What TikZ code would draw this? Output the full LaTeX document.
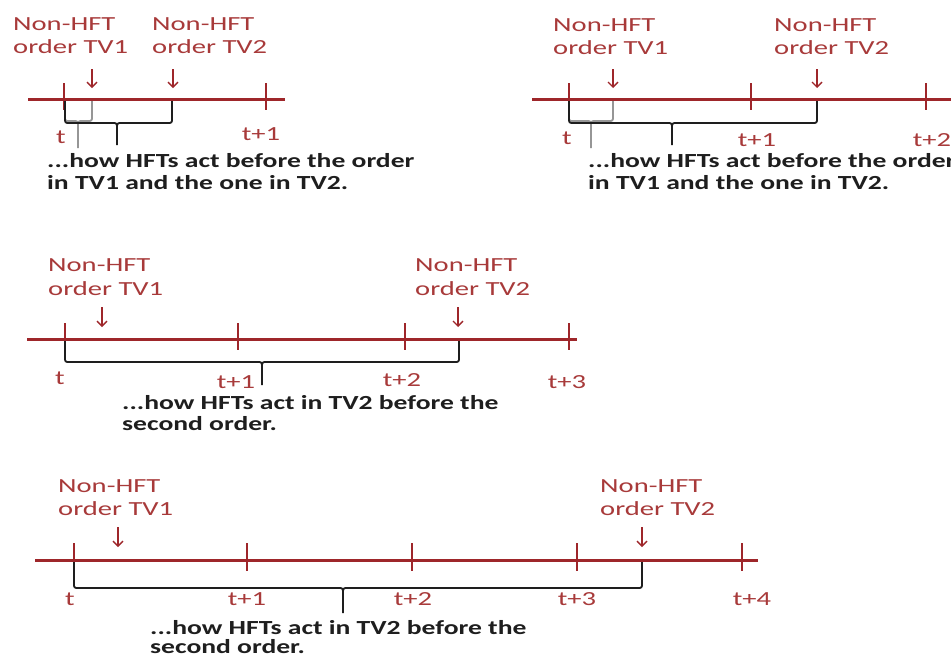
\documentclass[tikz,border=0pt]{standalone}
\usepackage{fontspec}
\usetikzlibrary{arrows.meta}
\newfontfamily\labfont[FakeStretch=1.43]{Carlito}
\newfontfamily\explfont[FakeStretch=1.38]{Carlito}
\definecolor{axisred}{RGB}{158,38,42}
\definecolor{labred}{RGB}{168,58,58}
\definecolor{bracegray}{RGB}{150,150,150}
\definecolor{braceblack}{RGB}{30,30,30}
\newcommand{\mybrace}[7]{%
  \draw[#1] (#2,#5) -- (#2,#6-5) .. controls (#2,#6) .. (#2+5,#6) -- (#4-5,#6) .. controls (#4,#6) .. (#4,#6+6) -- (#4,#7);
  \draw[#1] (#3,#5) -- (#3,#6-5) .. controls (#3,#6) .. (#3-5,#6) -- (#4+5,#6) .. controls (#4,#6) .. (#4,#6+6);
}
\tikzset{
  axisline/.style={draw=axisred, line width=3pt},
  tickmark/.style={draw=axisred, line width=1.8pt},
  ordarrow/.style={draw=axisred, line width=1.4pt, -{Straight Barb[length=5pt,width=10pt,line width=1.4pt]}},
  lab/.style={anchor=base west, inner sep=0pt, text=labred, font=\labfont\fontsize{20}{23}\selectfont},
  tlab/.style={anchor=base, inner sep=0pt, text=labred, font=\labfont\fontsize{20}{23}\selectfont},
  expl/.style={anchor=base west, inner sep=0pt, text=braceblack, font=\explfont\bfseries\fontsize{20}{23}\selectfont},
  blackbrace/.style={draw=braceblack, line width=1.8pt},
  graybrace/.style={draw=bracegray, line width=1.8pt},
}
\begin{document}
\begin{tikzpicture}[x=1pt, y=-1pt]
\useasboundingbox (0,0) rectangle (951,656);
\fill[white] (0,0) rectangle (951,656);

% ---------------- Panel 1 ----------------
\coordinate (p1l) at (28,99); \coordinate (p1r) at (285,99);
\draw[axisline] (p1l) -- (p1r);
\draw[tickmark] (64,83) -- (64,110);
\draw[tickmark] (266,83) -- (266,110);
\coordinate (p1a1s) at (92,69); \coordinate (p1a1e) at (92,88);
\coordinate (p1a2s) at (173,69); \coordinate (p1a2e) at (173,88);
\draw[ordarrow] (p1a1s) -- (p1a1e);
\draw[ordarrow] (p1a2s) -- (p1a2e);
\node[lab] (p1l1a) at (13,30) {Non-HFT};
\node[lab] (p1l1b) at (13,53) {order TV1};
\node[lab] (p1l2a) at (152,30) {Non-HFT};
\node[lab] (p1l2b) at (152,53) {order TV2};
\node[tlab] (p1t0) at (61,143) {t};
\node[tlab] (p1t1) at (261,140) {t+1};
\mybrace{graybrace}{65}{92}{78}{101}{121}{148}
\mybrace{blackbrace}{65}{172}{117}{101}{123}{145}
\node[expl] (p1e1) at (47,167) {...how HFTs act before the order};
\node[expl] (p1e2) at (47,189) {in TV1 and the one in TV2.};

% ---------------- Panel 2 ----------------
\coordinate (p2l) at (532,99); \coordinate (p2r) at (960,99);
\draw[axisline] (p2l) -- (p2r);
\draw[tickmark] (569,83) -- (569,110);
\draw[tickmark] (751,83) -- (751,110);
\draw[tickmark] (926,83) -- (926,110);
\coordinate (p2a1s) at (613,69); \coordinate (p2a1e) at (613,88);
\coordinate (p2a2s) at (817,69); \coordinate (p2a2e) at (817,88);
\draw[ordarrow] (p2a1s) -- (p2a1e);
\draw[ordarrow] (p2a2s) -- (p2a2e);
\node[lab] (p2l1a) at (553,31) {Non-HFT};
\node[lab] (p2l1b) at (553,54) {order TV1};
\node[lab] (p2l2a) at (774,31) {Non-HFT};
\node[lab] (p2l2b) at (774,54) {order TV2};
\node[tlab] (p2t0) at (567,144) {t};
\node[tlab] (p2t1) at (757,146) {t+1};
\node[tlab] (p2t2) at (932,146) {t+2};
\mybrace{graybrace}{569}{613}{591}{101}{121}{148}
\mybrace{blackbrace}{569}{817}{672}{101}{123}{145}
\node[expl] (p2e1) at (588,167) {...how HFTs act before the order};
\node[expl] (p2e2) at (588,189) {in TV1 and the one in TV2.};

% ---------------- Panel 3 ----------------
\coordinate (p3l) at (27,339); \coordinate (p3r) at (577,339);
\draw[axisline] (p3l) -- (p3r);
\draw[tickmark] (65,323) -- (65,350);
\draw[tickmark] (238,323) -- (238,350);
\draw[tickmark] (405,323) -- (405,350);
\draw[tickmark] (569,323) -- (569,350);
\coordinate (p3a1s) at (102,307); \coordinate (p3a1e) at (102,327);
\coordinate (p3a2s) at (458,307); \coordinate (p3a2e) at (458,327);
\draw[ordarrow] (p3a1s) -- (p3a1e);
\draw[ordarrow] (p3a2s) -- (p3a2e);
\node[lab] (p3l1a) at (48,271) {Non-HFT};
\node[lab] (p3l1b) at (48,295) {order TV1};
\node[lab] (p3l2a) at (415,271) {Non-HFT};
\node[lab] (p3l2b) at (415,295) {order TV2};
\node[tlab] (p3t0) at (60,384) {t};
\node[tlab] (p3t1) at (236,388) {t+1};
\node[tlab] (p3t2) at (402,386) {t+2};
\node[tlab] (p3t3) at (567,388) {t+3};
\mybrace{blackbrace}{65}{459}{262}{341}{362}{385}
\node[expl] (p3e1) at (122,409) {...how HFTs act in TV2 before the};
\node[expl] (p3e2) at (122,430) {second order.};

% ---------------- Panel 4 ----------------
\coordinate (p4l) at (35,560); \coordinate (p4r) at (758,560);
\draw[axisline] (p4l) -- (p4r);
\draw[tickmark] (74,543) -- (74,571);
\draw[tickmark] (247,543) -- (247,571);
\draw[tickmark] (412,543) -- (412,571);
\draw[tickmark] (577,543) -- (577,571);
\draw[tickmark] (742,543) -- (742,571);
\coordinate (p4a1s) at (118,527); \coordinate (p4a1e) at (118,547);
\coordinate (p4a2s) at (642,527); \coordinate (p4a2e) at (642,547);
\draw[ordarrow] (p4a1s) -- (p4a1e);
\draw[ordarrow] (p4a2s) -- (p4a2e);
\node[lab] (p4l1a) at (58,492) {Non-HFT};
\node[lab] (p4l1b) at (58,515) {order TV1};
\node[lab] (p4l2a) at (600,492) {Non-HFT};
\node[lab] (p4l2b) at (600,515) {order TV2};
\node[tlab] (p4t0) at (70,605) {t};
\node[tlab] (p4t1) at (247,605) {t+1};
\node[tlab] (p4t2) at (413,605) {t+2};
\node[tlab] (p4t3) at (577,605) {t+3};
\node[tlab] (p4t4) at (752,605) {t+4};
\mybrace{blackbrace}{74}{642}{343}{562}{588}{613}
\node[expl] (p4e1) at (150,634) {...how HFTs act in TV2 before the};
\node[expl] (p4e2) at (150,653) {second order.};
\end{tikzpicture}
\end{document}
